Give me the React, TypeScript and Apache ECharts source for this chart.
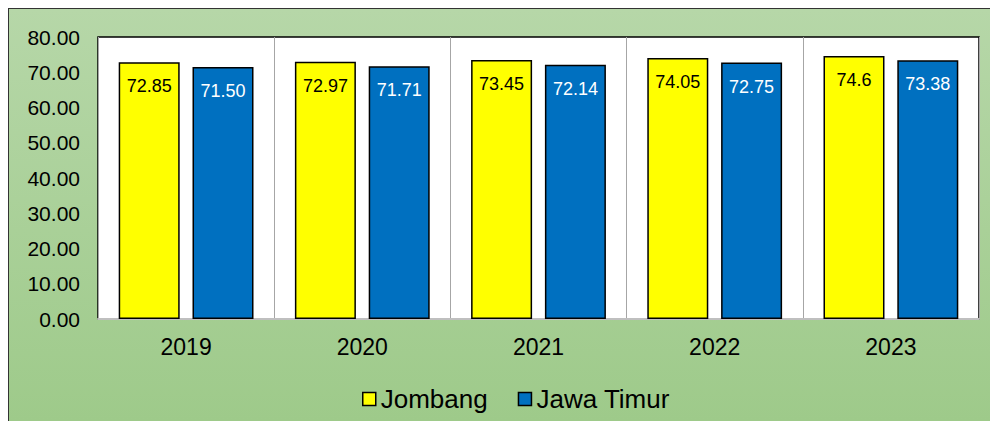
import React, { useEffect, useRef } from "react";
import * as echarts from "echarts";

const categories = ["2019", "2020", "2021", "2022", "2023"];
const jombang = [72.85, 72.97, 73.45, 74.05, 74.6];
const jawaTimur = [71.5, 71.71, 72.14, 72.75, 73.38];
const seriesNames = ["Jombang", "Jawa Timur"];

const FONT = "'Liberation Sans', Arial, sans-serif";

export default function App() {
  const ref = useRef<HTMLDivElement>(null);

  useEffect(() => {
    if (!ref.current) return;
    const chart = echarts.init(ref.current, null, { renderer: "svg" });
    chart.setOption({
      animation: false,
      backgroundColor: new echarts.graphic.LinearGradient(0, 0, 0, 1, [
        { offset: 0, color: "#B6D7A8" },
        { offset: 1, color: "#9ECA8A" },
      ]),
      textStyle: { fontFamily: FONT },
      grid: {
        left: 89,
        top: 28,
        right: 19,
        bottom: 102,
        show: true,
        backgroundColor: "#FFFFFF",
        borderColor: "#000000",
        borderWidth: 1.5,
      },
      legend: {
        data: seriesNames,
        left: 348,
        top: 372,
        itemWidth: 13,
        itemHeight: 13,
        itemGap: 30,
        icon: "rect",
        textStyle: { fontSize: 26, color: "#000", fontFamily: FONT },
        itemStyle: { borderColor: "#000", borderWidth: 1.5 },
      },
      xAxis: {
        type: "category",
        data: categories,
        axisLine: { show: true, lineStyle: { color: "#BFBFBF", width: 2 } },
        axisTick: { show: false },
        axisLabel: { fontSize: 23, color: "#000", margin: 16, fontFamily: FONT },
        splitLine: { show: true, lineStyle: { color: "#A6A6A6", width: 1 } },
      },
      yAxis: {
        type: "value",
        min: 0,
        max: 80,
        interval: 10,
        axisLine: { show: false },
        axisTick: { show: false },
        splitLine: { show: false },
        axisLabel: {
          fontSize: 21,
          color: "#000",
          margin: 18,
          fontFamily: FONT,
          formatter: (v: number) => v.toFixed(2),
        },
      },
      series: [
        {
          name: seriesNames[0],
          type: "bar",
          data: jombang,
          barWidth: 61,
          barGap: "21%",
          itemStyle: { color: "#FFFF00", borderColor: "#000", borderWidth: 1.5 },
          label: {
            show: true,
            position: "insideTop",
            distance: 15,
            fontSize: 18,
            color: "#000",
            fontFamily: FONT,
            formatter: (p: any) => String(p.value),
          },
        },
        {
          name: seriesNames[1],
          type: "bar",
          data: jawaTimur,
          barWidth: 61,
          itemStyle: { color: "#0070C0", borderColor: "#000", borderWidth: 1.5 },
          label: {
            show: true,
            position: "insideTop",
            distance: 15,
            fontSize: 18,
            color: "#FFFFFF",
            fontFamily: FONT,
            formatter: (p: any) => Number(p.value).toFixed(2),
          },
        },
      ],
    });
    return () => chart.dispose();
  }, []);

  return (
    <div
      style={{
        width: 990,
        height: 413,
        borderTop: "1px solid #333",
        borderLeft: "1px solid #333",
        boxSizing: "border-box",
      }}
    >
      <div ref={ref} style={{ width: 989, height: 412 }} />
    </div>
  );
}
